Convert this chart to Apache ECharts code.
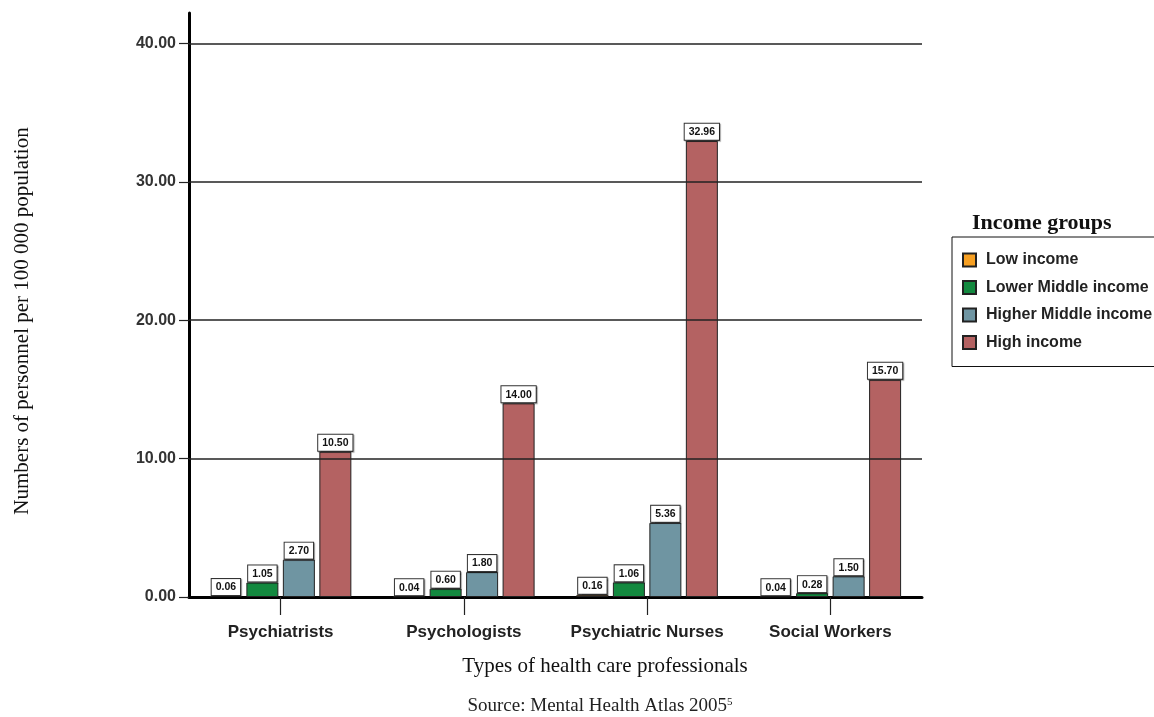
<!DOCTYPE html>
<html>
<head>
<meta charset="utf-8">
<script src="https://cdn.jsdelivr.net/npm/echarts@6/dist/echarts.min.js"></script>
<style>
html,body{margin:0;padding:0;background:#fff;}
#chart{width:1154px;height:717px;}
</style>
</head>
<body>
<div id="chart"></div>
<script>
const categories = ['Psychiatrists', 'Psychologists', 'Psychiatric Nurses', 'Social Workers'];
const seriesNames = ['Low income', 'Lower Middle income', 'Higher Middle income', 'High income'];
const lowIncome = [0.06, 0.04, 0.16, 0.04];
const lowerMiddleIncome = [1.05, 0.60, 1.06, 0.28];
const higherMiddleIncome = [2.70, 1.80, 5.36, 1.50];
const highIncome = [10.50, 14.00, 32.96, 15.70];
const yTicks = [0, 10, 20, 30, 40];
const gridValues = [10, 20, 30, 40];

const colors = ['#f7a023', '#13893f', '#6f95a2', '#b46262'];
const allData = [lowIncome, lowerMiddleIncome, higherMiddleIncome, highIncome];
const serif = 'Liberation Serif, Times New Roman, serif';
const sans = 'Arial, Liberation Sans, sans-serif';

const chart = echarts.init(document.getElementById('chart'));

const series = allData.map((d, i) => ({
  name: seriesNames[i],
  type: 'bar',
  data: d,
  barWidth: 32,
  barGap: '14%',
  itemStyle: { color: colors[i], borderColor: '#222', borderWidth: 1 },
  label: {
    show: true,
    position: 'top',
    distance: 1,
    formatter: p => p.value.toFixed(2),
    fontFamily: sans,
    fontSize: 10.5,
    fontWeight: 'bold',
    color: '#111',
    backgroundColor: '#fff',
    borderColor: '#333',
    borderWidth: 1,
    padding: [3, 4, 2, 4],
    shadowColor: 'rgba(0,0,0,0.35)',
    shadowBlur: 1,
    shadowOffsetX: 1,
    shadowOffsetY: 1
  },
  markLine: i === 0 ? {
    silent: true,
    symbol: 'none',
    label: { show: false },
    lineStyle: { color: '#222', width: 1.5, type: 'solid' },
    data: gridValues.map(v => ({ yAxis: v }))
  } : undefined,
  z: 3
}));

chart.setOption({
  animation: false,
  color: colors,
  grid: { left: 189, right: 232, top: 13, bottom: 120 },
  title: [{
    text: 'Income groups',
    left: 967, top: 207,
    textStyle: { fontFamily: serif, fontSize: 22, fontWeight: 'bold', color: '#111' }
  }],
  graphic: [{
    type: 'text',
    x: 22, y: 321,
    rotation: Math.PI / 2,
    style: {
      text: 'Numbers of personnel per 100 000 population',
      font: '21px ' + serif,
      fill: '#111',
      align: 'center',
      verticalAlign: 'middle'
    }
  }, {
    type: 'text',
    x: 605, y: 666,
    style: {
      text: 'Types of health care professionals',
      font: '21px ' + serif,
      fill: '#111',
      align: 'center',
      verticalAlign: 'middle'
    }
  }, {
    type: 'text',
    x: 600, y: 706,
    style: {
      text: '{m|Source: Mental Health Atlas 2005}{s|5}',
      align: 'center',
      verticalAlign: 'middle',
      rich: {
        m: { fontFamily: serif, fontSize: 19, fontWeight: 'normal', fill: '#222' },
        s: { fontFamily: serif, fontSize: 11, fontWeight: 'normal', fill: '#222', verticalAlign: 'top', padding: [0, 0, 8, 0] }
      }
    }
  }],
  legend: {
    orient: 'vertical',
    left: 952, top: 237,
    padding: [15, 40, 16, 10],
    itemGap: 11.5,
    itemWidth: 13, itemHeight: 13,
    icon: 'rect',
    borderColor: '#111', borderWidth: 1,
    textStyle: { fontFamily: sans, fontSize: 16, fontWeight: 'bold', color: '#222', lineHeight: 16, padding: [0, 0, 0, 5] },
    data: seriesNames
  },
  xAxis: {
    type: 'category',
    data: categories,
    axisLine: { show: true, lineStyle: { color: '#000', width: 3 } },
    axisTick: { show: true, interval: 0, alignWithLabel: true, length: 18, lineStyle: { color: '#222', width: 1.2 } },
    axisLabel: { interval: 0, fontFamily: sans, fontSize: 17, fontWeight: 'bold', color: '#222', margin: 27 },
    splitLine: { show: false }
  },
  yAxis: {
    type: 'value',
    min: 0, max: 42.2, interval: 10,
    axisLine: { show: true, lineStyle: { color: '#000', width: 3 } },
    axisTick: { show: true, length: 10, lineStyle: { color: '#222', width: 1.2 }, customValues: yTicks },
    axisLabel: {
      fontFamily: sans, fontSize: 16, fontWeight: 'bold', color: '#333', margin: 13,
      formatter: v => v.toFixed(2), customValues: yTicks
    },
    splitLine: { show: false }
  },
  series: series
});
</script>
</body>
</html>
